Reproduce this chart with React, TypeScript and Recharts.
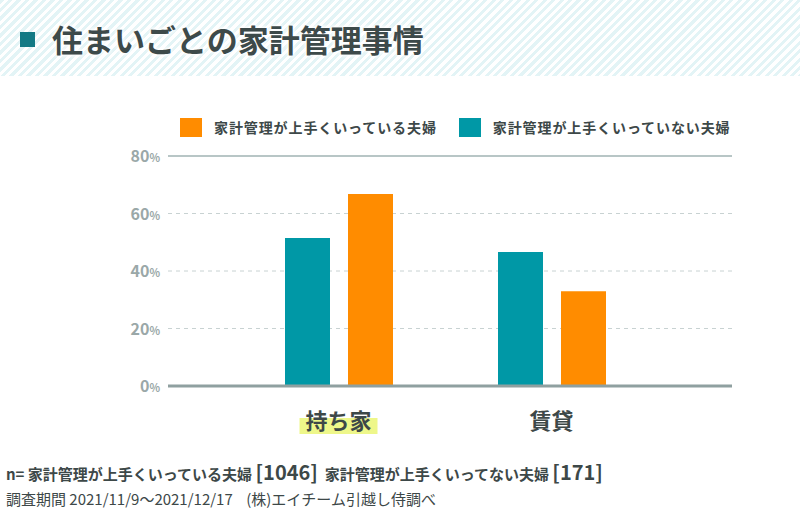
import React from "react";
import { BarChart, Bar, XAxis, YAxis, CartesianGrid, ReferenceLine } from "recharts";

const categories = ["持ち家", "賃貸"];
const notGood = [51.5, 46.6];
const good = [66.8, 33.0];
const yTicks = [0, 20, 40, 60, 80];
const data = categories.map((c, i) => ({ name: c, notGood: notGood[i], good: good[i] }));

const ORANGE = "#ff8c00";
const TEAL = "#0098a6";
const FONT = "'Noto Sans CJK JP', 'Noto Sans', sans-serif";

const YTick = (p: any) => (
  <text x={p.x} y={p.y} dy={6} textAnchor="end" fill="#9aa8a8" fontFamily={FONT} fontWeight={700}>
    <tspan fontSize={16}>{p.payload.value}</tspan>
    <tspan fontSize={11}>%</tspan>
  </text>
);

const XTick = (p: any) => {
  const v = p.payload.value;
  return (
    <g>
      {v === "持ち家" && <rect x={p.x - 39} y={p.y + 24} width={78} height={16} fill="#eef78a" />}
      <text x={p.x} y={p.y + 35} textAnchor="middle" fill="#3d4848" fontSize={22} fontWeight={700} fontFamily={FONT}>{v}</text>
    </g>
  );
};

export default function App() {
  return (
    <div style={{ position: "absolute", left: 0, top: 0, width: 800, height: 520, background: "#fff", fontFamily: FONT, overflow: "hidden" }}>
      <div style={{ position: "absolute", left: 0, top: 0, width: 800, height: 76,
        background: "repeating-linear-gradient(135deg, #e3f4f6 0px, #e3f4f6 3px, #ffffff 3px, #ffffff 6px)" }} />
      <div style={{ position: "absolute", left: 20, top: 32, width: 15, height: 15, background: "#137a85" }} />
      <div style={{ position: "absolute", left: 52, top: 16, fontSize: 31, fontWeight: 700, color: "#3d4a4a", textShadow: "0 0 4px #fff, 0 0 4px #fff, 0 0 4px #fff" }}>住まいごとの家計管理事情</div>
      <div style={{ position: "absolute", left: 180, top: 117, display: "flex", alignItems: "center", fontSize: 14, fontWeight: 700, color: "#3d4848", whiteSpace: "nowrap", letterSpacing: 0.9 }}>
        <span style={{ width: 22, height: 19, background: ORANGE, display: "inline-block", marginRight: 12 }} />
        <span>家計管理が上手くいっている夫婦</span>
        <span style={{ width: 22, height: 19, background: TEAL, display: "inline-block", marginLeft: 22, marginRight: 12 }} />
        <span>家計管理が上手くいっていない夫婦</span>
      </div>
      <div style={{ position: "absolute", top: 0, left: 0 }}>
        <BarChart width={800} height={520} data={data} margin={{ top: 156, right: 68, bottom: 104, left: 108 }} barGap={18} barCategoryGap="24.6%">
          <CartesianGrid vertical={false} stroke="#c8d2d2" strokeDasharray="4 4" />
          <XAxis dataKey="name" axisLine={false} tickLine={false} tick={<XTick />} padding={{ left: 64, right: 74 }} />
          <YAxis domain={[0, 80]} ticks={yTicks} width={60} axisLine={false} tickLine={false} tick={<YTick />} />
          <ReferenceLine y={80} stroke="#b8c6c6" strokeWidth={2} />
          <Bar dataKey="notGood" fill={TEAL} barSize={45} isAnimationActive={false} />
          <Bar dataKey="good" fill={ORANGE} barSize={45} isAnimationActive={false} />
          <ReferenceLine y={0} stroke="#8fa0a0" strokeWidth={3} />
        </BarChart>
      </div>
      <div style={{ position: "absolute", left: 6, top: 457, fontSize: 15, fontWeight: 700, color: "#3d4848", whiteSpace: "nowrap" }}>
        n= 家計管理が上手くいっている夫婦 <span style={{ fontSize: 20 }}>[1046]</span>&nbsp; 家計管理が上手くいってない夫婦 <span style={{ fontSize: 20 }}>[171]</span>
      </div>
      <div style={{ position: "absolute", left: 6, top: 488, fontSize: 15, color: "#3d4848", whiteSpace: "nowrap" }}>
        調査期間 2021/11/9〜2021/12/17 &nbsp;&nbsp;&nbsp;(株)エイチーム引越し侍調べ
      </div>
    </div>
  );
}
